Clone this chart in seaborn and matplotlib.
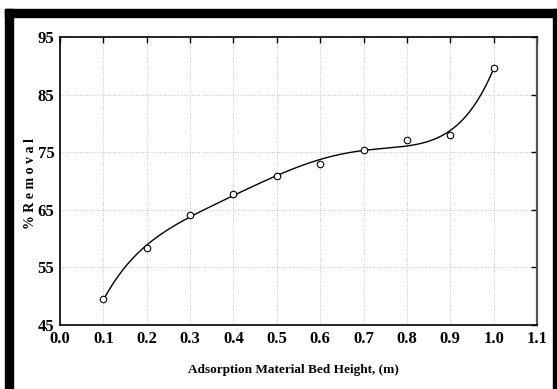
import numpy as np
import pandas as pd
import seaborn as sns
import matplotlib
matplotlib.use("Agg")
import matplotlib.pyplot as plt
from matplotlib.patches import Rectangle

# Bed height (m) and measured removal (%)
bed_height = [0.1, 0.2, 0.3, 0.4, 0.5, 0.6, 0.7, 0.8, 0.9, 1.0]
removal = [49.5, 58.4, 64.1, 67.8, 70.9, 73.0, 75.4, 77.1, 77.9, 89.7]

x_ticks = [0.0, 0.1, 0.2, 0.3, 0.4, 0.5, 0.6, 0.7, 0.8, 0.9, 1.0, 1.1]
y_ticks = [45, 55, 65, 75, 85, 95]

sns.set_theme(style="white")
plt.rcParams["font.family"] = ["Liberation Serif", "DejaVu Serif"]
plt.rcParams["font.weight"] = "bold"

df = pd.DataFrame({"h": bed_height, "r": removal})

# smooth polynomial trend through the measurements
coef = np.polyfit(df["h"], df["r"], 5)
xs = np.linspace(min(bed_height), max(bed_height), 300)
fit = pd.DataFrame({"h": xs, "r": np.polyval(coef, xs)})

fig = plt.figure(figsize=(5.57, 3.89), dpi=100)
ax = fig.add_axes([60 / 557, 64 / 389, 477 / 557, 288 / 389])

sns.lineplot(data=fit, x="h", y="r", ax=ax, color="black", lw=1.0)
sns.scatterplot(data=df, x="h", y="r", ax=ax, s=22, facecolor="white",
                edgecolor="black", linewidth=0.8, zorder=5)

ax.set_xlim(0.0, 1.1)
ax.set_ylim(45, 95)
ax.set_xticks(x_ticks)
ax.set_xticklabels([f"{t:.1f}" for t in x_ticks])
ax.set_yticks(y_ticks)
ax.set_yticklabels([str(t) for t in y_ticks])

ax.grid(True, color="#c8c8c8", linestyle=(0, (1, 1.5)), linewidth=0.7)
ax.set_axisbelow(True)

ax.tick_params(axis="both", direction="in", length=4, width=1.0, color="black",
               top=True, right=True, labelsize=12, pad=4)
for lab in ax.get_xticklabels() + ax.get_yticklabels():
    lab.set_fontweight("bold")
    lab.set_color("black")

for s in ax.spines.values():
    s.set_color("black")
    s.set_linewidth(1.2)
ax.spines["right"].set_color("#555555")
ax.spines["right"].set_linewidth(1.6)

ax.set_xlabel("Adsorption Material Bed Height, (m)", fontsize=9.5,
              fontweight="bold", color="black")
ax.set_ylabel("% R e m o v a l", fontsize=10, fontweight="bold", color="black")
ax.xaxis.set_label_coords(0.49, -0.135)
ax.yaxis.set_label_coords(-0.048, 0.49)

# black frame around the figure (left, top, right)
fig.patches.append(Rectangle((5 / 557, 0), 8 / 557, 380 / 389,
                             transform=fig.transFigure, color="black", zorder=10))
fig.patches.append(Rectangle((5 / 557, 372 / 389), 552 / 557, 8 / 389,
                             transform=fig.transFigure, color="black", zorder=10))
fig.patches.append(Rectangle((553 / 557, 0), 4 / 557, 380 / 389,
                             transform=fig.transFigure, color="black", zorder=10))

fig.savefig("out.png", dpi=100, facecolor="white")
